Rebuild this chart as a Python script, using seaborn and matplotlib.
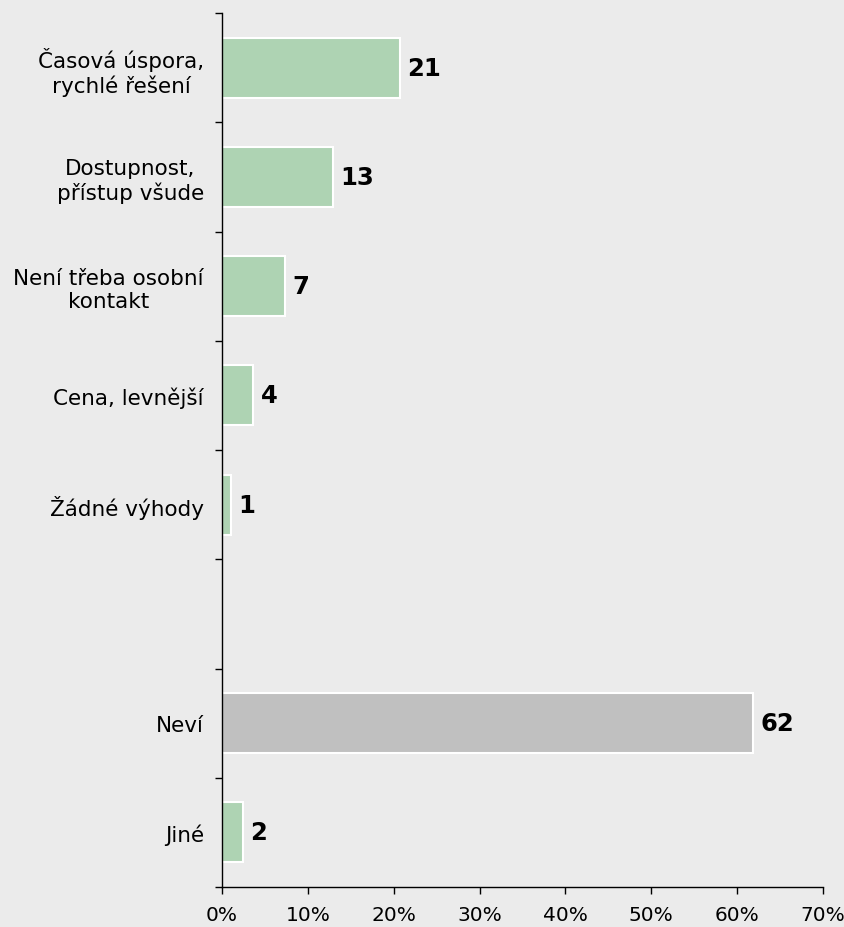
import matplotlib
matplotlib.use('Agg')
import matplotlib.pyplot as plt
import pandas as pd
import seaborn as sns
from matplotlib.ticker import FixedLocator

# chart data
categories = ['Časová úspora,\nrychlé řešení', 'Dostupnost,\npřístup všude',
              'Není třeba osobní\nkontakt', 'Cena, levnější', 'Žádné výhody',
              'Neví', 'Jiné']
values = [20.7, 12.9, 7.3, 3.6, 1.0, 61.8, 2.4]
value_labels = ['21', '13', '7', '4', '1', '62', '2']
x_ticks = [0, 10, 20, 30, 40, 50, 60, 70]

# empty slot between the answers and "Neví"
order = categories[:5] + [' '] + categories[5:]

df = pd.DataFrame({'cat': categories, 'value': values})
colors = {c: '#aed3b3' for c in categories}
colors['Neví'] = '#c0c0c0'

sns.set_style('white')
plt.rcParams['font.family'] = ['DejaVu Sans']

fig = plt.figure(figsize=(8.45, 9.28), dpi=100)
fig.patch.set_facecolor('#ebebeb')
ax = fig.add_axes([222 / 845, 1 - 888 / 928, (823 - 222) / 845, (888 - 14) / 928])
ax.set_facecolor('#ebebeb')

sns.barplot(data=df, x='value', y='cat', hue='cat', order=order,
            palette=colors, saturation=1, legend=False, width=0.55,
            edgecolor='white', linewidth=1.5, ax=ax)

# value labels
for i, cat in enumerate(order):
    if cat not in categories:
        continue
    k = categories.index(cat)
    ax.text(values[k] + 0.9, i, value_labels[k], va='center', ha='left',
            fontsize=17.5, fontweight='bold', color='black')

ax.set_xlim(0, 70)
ax.set_ylim(len(order) - 0.5, -0.5)
ax.set_xticks(x_ticks)
ax.set_xticklabels([f'{t}%' for t in x_ticks], fontsize=14.5, color='black')
ax.set_xlabel('')
ax.set_ylabel('')

ax.set_yticks(range(len(order)))
ax.set_yticklabels(order, fontsize=15.5, multialignment='center', color='black')
ax.yaxis.set_minor_locator(FixedLocator([i - 0.5 for i in range(len(order) + 1)]))
ax.tick_params(axis='y', which='major', length=0, pad=13)
ax.tick_params(axis='y', which='minor', length=5, width=1, color='black', left=True)
ax.tick_params(axis='x', which='major', length=5, width=1, color='black', bottom=True, pad=8)

for s in ['top', 'right']:
    ax.spines[s].set_visible(False)
for s in ['left', 'bottom']:
    ax.spines[s].set_color('black')
    ax.spines[s].set_linewidth(1)

fig.savefig('out.png', dpi=100, facecolor=fig.get_facecolor())
